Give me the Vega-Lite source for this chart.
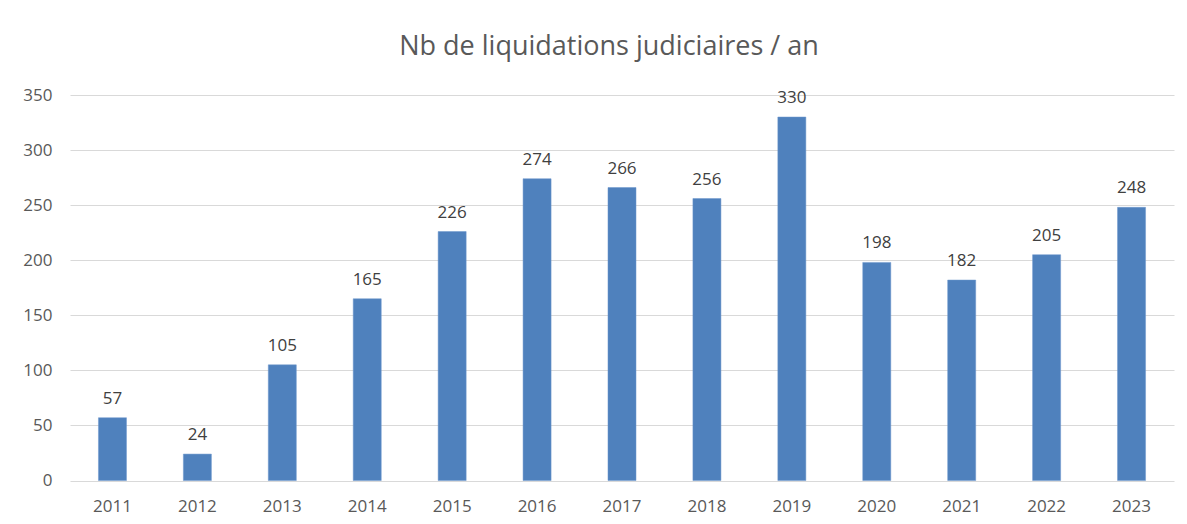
{
  "$schema": "https://vega.github.io/schema/vega-lite/v6.json",
  "width": 1104,
  "height": 385.5,
  "autosize": "none",
  "padding": {"left": 70, "top": 95, "right": 13, "bottom": 43.5},
  "background": "white",
  "title": {
    "text": "Nb de liquidations judiciaires / an",
    "fontSize": 27,
    "font": "Open Sans",
    "fontWeight": "normal",
    "color": "#595959",
    "anchor": "middle",
    "dx": -13,
    "offset": 25
  },
  "data": {
    "values": [
      {"annee": "2011", "nb": 57},
      {"annee": "2012", "nb": 24},
      {"annee": "2013", "nb": 105},
      {"annee": "2014", "nb": 165},
      {"annee": "2015", "nb": 226},
      {"annee": "2016", "nb": 274},
      {"annee": "2017", "nb": 266},
      {"annee": "2018", "nb": 256},
      {"annee": "2019", "nb": 330},
      {"annee": "2020", "nb": 198},
      {"annee": "2021", "nb": 182},
      {"annee": "2022", "nb": 205},
      {"annee": "2023", "nb": 248}
    ]
  },
  "encoding": {
    "x": {
      "field": "annee",
      "type": "ordinal",
      "scale": {"paddingInner": 0.67, "paddingOuter": 0.335},
      "axis": {
        "title": null,
        "labelAngle": 0,
        "domain": false,
        "ticks": false,
        "labelFont": "Open Sans",
        "labelFontSize": 17,
        "labelColor": "#595959",
        "labelPadding": 18
      }
    },
    "y": {
      "field": "nb",
      "type": "quantitative",
      "scale": {"domain": [0, 350], "nice": false},
      "axis": {
        "title": null,
        "values": [0, 50, 100, 150, 200, 250, 300, 350],
        "domain": false,
        "ticks": false,
        "grid": true,
        "gridColor": "#d9d9d9",
        "gridWidth": 1,
        "labelFont": "Open Sans",
        "labelFontSize": 17,
        "labelColor": "#595959",
        "labelPadding": 18
      }
    }
  },
  "layer": [
    {"mark": {"type": "bar", "color": "#4f81bd", "stroke": "#6d97cc", "strokeWidth": 0.5}},
    {
      "mark": {
        "type": "text",
        "baseline": "alphabetic",
        "dy": -14,
        "font": "Open Sans",
        "fontSize": 17,
        "color": "#404040"
      },
      "encoding": {"text": {"field": "nb", "type": "quantitative"}}
    }
  ],
  "config": {"view": {"stroke": null}}
}
